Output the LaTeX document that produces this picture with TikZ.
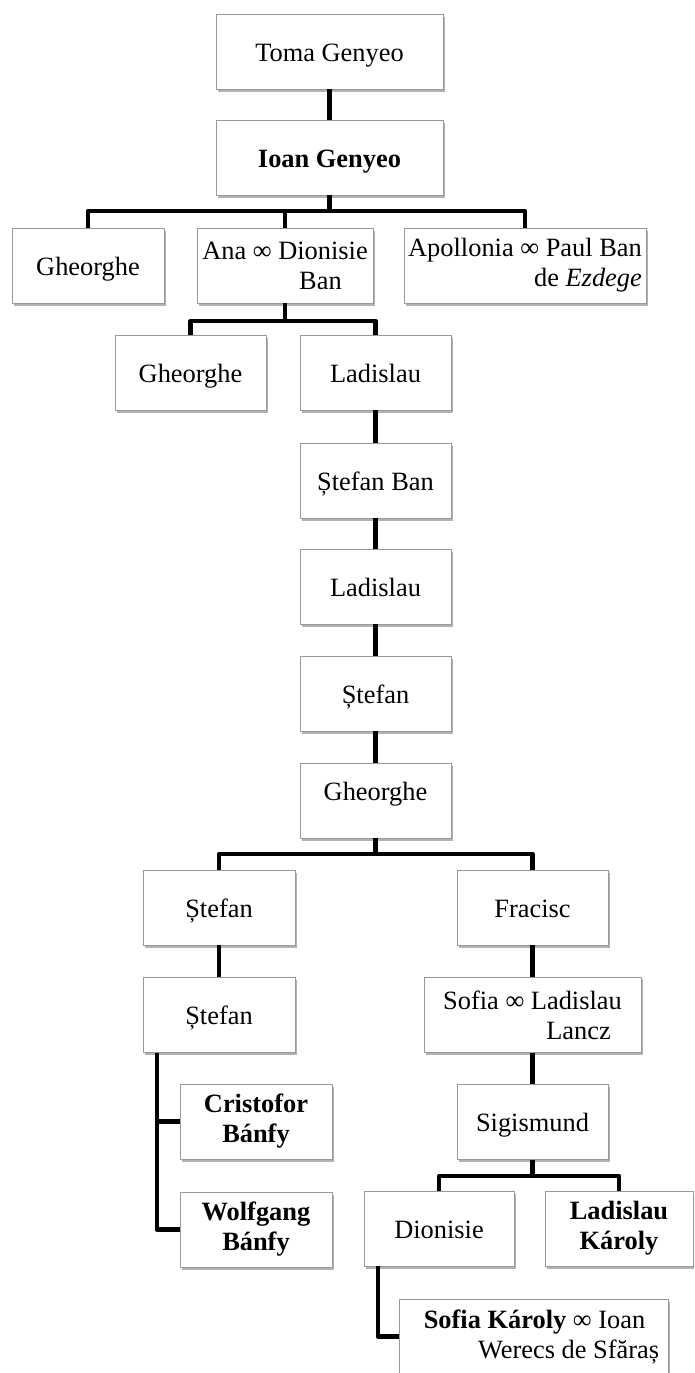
\documentclass[tikz,border=0pt]{standalone}
\usepackage{fontspec}
\setmainfont{Liberation Serif}
\usetikzlibrary{shadows}
\begin{document}
\begin{tikzpicture}[x=1pt,y=-1pt,
  box/.style={draw=black!40, line width=0.9pt, fill=white, minimum width=151pt,
    minimum height=75pt, inner sep=0pt, font=\fontsize{26.4}{30}\selectfont,
    drop shadow={shadow xshift=1.5pt, shadow yshift=-2.5pt, opacity=0.3, fill=black}},
  one/.style={text height=19pt, text depth=0pt},
  high/.style={text height=19pt, text depth=19pt},
  conn/.style={line width=4.5pt, line join=round, draw=black}]
\useasboundingbox (0,0) rectangle (694,1373);
\clip (0,0) rectangle (694,1373);
\fill[white] (0,0) rectangle (694,1373);

% boxes
\node[box,one,minimum width=227pt] (toma) at (329.5,51.5) {Toma Genyeo};
\node[box,one,minimum width=227pt] (ioan) at (329.5,157.5) {\textbf{Ioan Genyeo}};
\node[box,one,minimum width=152pt] (gh1) at (88,265.5) {Gheorghe};
\node[box,align=right,minimum width=176pt] (ana) at (285,265.5) {Ana ∞ Dionisie\\Ban\hspace*{26pt}};
\node[box,align=right,minimum width=242pt] (apo) at (525,265.5) {Apollonia ∞ Paul Ban\\de \textit{Ezdege}};
\node[box,one] (gh2) at (190.5,372.5) {Gheorghe};
\node[box,one] (lad1) at (375.5,372.5) {Ladislau};
\node[box,one] (stb) at (375.5,480.5) {Ștefan Ban};
\node[box,one] (lad2) at (375.5,586.5) {Ladislau};
\node[box,one] (st1) at (375.5,693.5) {Ștefan};
\node[box,high] (gh3) at (375.5,800.5) {Gheorghe};
\node[box,one,minimum width=152pt] (st2) at (219,907.5) {Ștefan};
\node[box,one] (fra) at (532.5,907.5) {Fracisc};
\node[box,one,minimum width=152pt] (st3) at (219,1015) {Ștefan};
\node[box,align=right,minimum width=217pt] (sofia) at (532.5,1015) {Sofia ∞ Ladislau\\Lancz\hspace*{11pt}};
\node[box,align=center,minimum width=152pt] (cri) at (256,1121.5) {\textbf{Cristofor}\\\textbf{Bánfy}};
\node[box,one] (sig) at (532.5,1122) {Sigismund};
\node[box,align=center,minimum width=152pt] (wol) at (256,1229.5) {\textbf{Wolfgang}\\\textbf{Bánfy}};
\node[box,one,minimum width=150pt] (dio) at (439,1228.5) {Dionisie};
\node[box,align=center,minimum width=148pt] (lk) at (619,1228.5) {\textbf{Ladislau}\\\textbf{Károly}};
\node[box,align=right,minimum width=269pt] (sk) at (533.5,1336.5) {\hspace*{16pt}\textbf{Sofia Károly} ∞ Ioan\hspace*{14pt}\\Werecs de Sfăraș};

% junction coordinates
\coordinate (b1) at (329.5,211);
\coordinate (b2) at (285,321);
\coordinate (b3) at (375.5,854);
\coordinate (b4) at (157,1053);
\coordinate (b5) at (532.5,1176);
\coordinate (b6) at (378,1266);

% connectors
\draw[conn] (toma.south) -- (ioan.north);
\draw[conn] (ioan.south) -- (b1);
\draw[conn] (gh1.north) |- (b1) -| (apo.north);
\draw[conn] (ana.north) -- (ana.north |- b1);
\draw[conn] (ana.south) -- (b2);
\draw[conn] (gh2.north) |- (b2) -| (lad1.north);
\draw[conn] (lad1.south) -- (stb.north);
\draw[conn] (stb.south) -- (lad2.north);
\draw[conn] (lad2.south) -- (st1.north);
\draw[conn] (st1.south) -- (gh3.north);
\draw[conn] (gh3.south) -- (b3);
\draw[conn] (st2.north) |- (b3) -| (fra.north);
\draw[conn] (st2.south) -- (st3.north);
\draw[conn] (fra.south) -- (sofia.north);
\draw[conn] (sofia.south) -- (sig.north);
\draw[conn] (b4) |- (wol.west);
\draw[conn] (cri.west) -- (cri.west -| b4);
\draw[conn] (sig.south) -- (b5);
\draw[conn] (dio.north) |- (b5) -| (lk.north);
\draw[conn] (b6) |- (sk.west);
\end{tikzpicture}
\end{document}
